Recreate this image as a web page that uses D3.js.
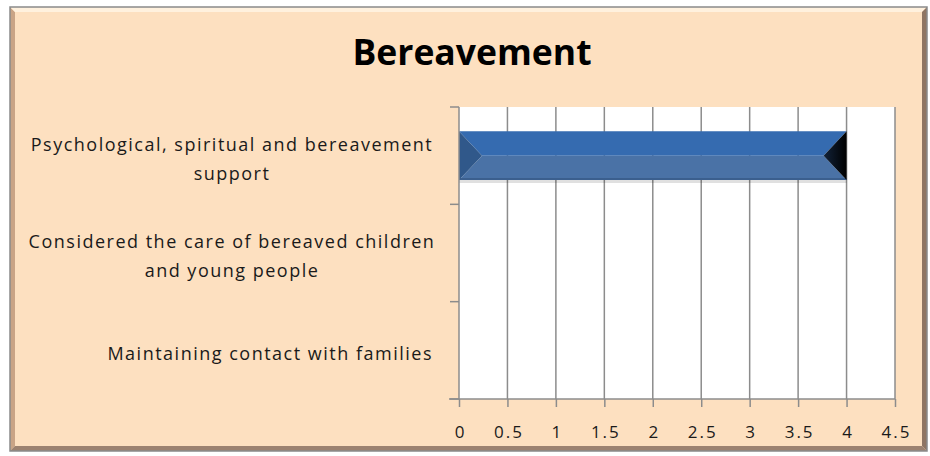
<!DOCTYPE html>
<html><head><meta charset="utf-8">
<script src="https://cdn.jsdelivr.net/npm/d3@7"></script>
<style>
html,body{margin:0;padding:0;background:#ffffff;}
svg{display:block;}
text{font-family:"Open Sans",Lato,sans-serif;fill:#1a1a1a;}
</style></head>
<body>
<svg id="chart" width="930" height="456"></svg>
<script>
const title = "Bereavement";
const categories = [
  "Psychological, spiritual and bereavement support",
  "Considered the care of bereaved children and young people",
  "Maintaining contact with families"
];
const categoryLines = [
  ["Psychological, spiritual and bereavement", "support"],
  ["Considered the care of bereaved children", "and young people"],
  ["Maintaining contact with families"]
];
const values = [4, 0, 0];
const xTicks = [0, 0.5, 1, 1.5, 2, 2.5, 3, 3.5, 4, 4.5];
const xTickLabels = ["0", "0.5", "1", "1.5", "2", "2.5", "3", "3.5", "4", "4.5"];

const svg = d3.select("#chart");
const defs = svg.append("defs");

// frame
const fl = 10, ft = 7, fr = 927, fb = 451;
svg.append("rect").attr("x", fl).attr("y", ft).attr("width", fr - fl).attr("height", fb - ft)
  .attr("fill", "#fde0c0");
const bev = 5;
svg.append("polygon").attr("points", `${fl},${ft} ${fl+bev},${ft+bev} ${fl+bev},${fb-bev} ${fl},${fb}`).attr("fill", "#c9a486");
svg.append("polygon").attr("points", `${fl},${ft} ${fr},${ft} ${fr-bev},${ft+bev} ${fl+bev},${ft+bev}`).attr("fill", "#fff1de");
svg.append("polygon").attr("points", `${fr},${ft} ${fr},${fb} ${fr-bev},${fb-bev} ${fr-bev},${ft+bev}`).attr("fill", "#8f7563");
svg.append("polygon").attr("points", `${fl},${fb} ${fr},${fb} ${fr-bev},${fb-bev} ${fl+bev},${fb-bev}`).attr("fill", "#9c8270");
svg.append("rect").attr("x", fl).attr("y", ft).attr("width", fr - fl).attr("height", fb - ft)
  .attr("fill", "none").attr("stroke", "#8a8a8a").attr("stroke-width", 1.5);

// title
svg.append("text").attr("x", 472).attr("y", 65).attr("text-anchor", "middle")
  .style("font-size", "35.5px").style("font-weight", "bold").style("fill", "#000").text(title);

// scales
const x = d3.scaleLinear().domain([0, 4.5]).range([459, 895]);
const y = d3.scaleBand().domain(categories).range([107, 399]).padding(0);

// plot background
svg.append("rect").attr("x", x(0)).attr("y", y.range()[0])
  .attr("width", x(4.5) - x(0)).attr("height", y.range()[1] - y.range()[0]).attr("fill", "#ffffff");

// gridlines
svg.append("g").selectAll("line").data(xTicks.slice(1)).join("line")
  .attr("x1", d => x(d)).attr("x2", d => x(d))
  .attr("y1", y.range()[0]).attr("y2", y.range()[1])
  .attr("stroke", "#8c8c8c").attr("stroke-width", 1.5);

// bars
const bh = y.bandwidth() * 0.5;
const bars = svg.append("g");
categories.forEach((c, i) => {
  const v = values[i];
  if (v <= 0) return;
  const x0 = x(0), x1 = x(v);
  const y0 = y(c) + (y.bandwidth() - bh) / 2, y1 = y0 + bh, ym = (y0 + y1) / 2;
  const b = Math.min(bh / 2, 23);
  bars.append("rect").attr("x", x0).attr("y", y1).attr("width", x1 - x0).attr("height", 3)
    .attr("fill", "#000").attr("opacity", 0.12);
  bars.append("polygon").attr("points", `${x0},${y0} ${x1},${y0} ${x1-b},${ym} ${x0+b},${ym}`).attr("fill", "#356bb0");
  bars.append("polygon").attr("points", `${x0},${y1} ${x1},${y1} ${x1-b},${ym} ${x0+b},${ym}`).attr("fill", "#4a72a6");
  bars.append("line").attr("x1", x0).attr("x2", x1).attr("y1", y1 - 1).attr("y2", y1 - 1).attr("stroke", "#3b5f8e").attr("stroke-width", 2);
  bars.append("polygon").attr("points", `${x0},${y0} ${x0+b},${ym} ${x0},${y1}`).attr("fill", "#30588a");
  const g = defs.append("linearGradient").attr("id", "rg" + i).attr("x1", "0").attr("x2", "1").attr("y1", "0").attr("y2", "0");
  g.append("stop").attr("offset", "0").attr("stop-color", "#12233a");
  g.append("stop").attr("offset", "1").attr("stop-color", "#000000");
  bars.append("polygon").attr("points", `${x1},${y0} ${x1-b},${ym} ${x1},${y1}`).attr("fill", `url(#rg${i})`);
});

// axes lines
svg.append("line").attr("x1", x(0)).attr("x2", x(0)).attr("y1", y.range()[0]).attr("y2", y.range()[1])
  .attr("stroke", "#8c8c8c").attr("stroke-width", 1.5);
svg.append("line").attr("x1", x(0) - 10).attr("x2", x(4.5)).attr("y1", y.range()[1]).attr("y2", y.range()[1])
  .attr("stroke", "#8c8c8c").attr("stroke-width", 1.5);

// y ticks at band boundaries
const bounds = categories.map(c => y(c)).concat([y.range()[1]]);
svg.append("g").selectAll("line").data(bounds).join("line")
  .attr("x1", x(0) - 9).attr("x2", x(0)).attr("y1", d => d).attr("y2", d => d)
  .attr("stroke", "#8c8c8c").attr("stroke-width", 1.5);

// x axis
const xAxis = d3.axisBottom(x).tickValues(xTicks).tickFormat((d, i) => xTickLabels[i]).tickSize(8);
const xg = svg.append("g").attr("transform", `translate(0,${y.range()[1]})`).call(xAxis);
xg.select(".domain").remove();
xg.selectAll(".tick line").attr("stroke", "#8c8c8c").attr("stroke-width", 1.5);
xg.selectAll(".tick text").attr("y", 39).attr("dy", null).attr("dx", 1)
  .style("font-size", "17px").style("letter-spacing", "2px")
  .style("font-family", "'Open Sans', sans-serif").attr("fill", "#1a1a1a");

// category labels
const lh = 29;
const lab = svg.append("g");
categories.forEach((c, i) => {
  const lines = categoryLines[i];
  const cy = y(c) + y.bandwidth() / 2;
  const single = lines.length === 1;
  const t = lab.append("text").attr("text-anchor", single ? "end" : "middle")
    .style("font-size", "18px").style("letter-spacing", "1.5px");
  lines.forEach((ln, j) => {
    t.append("tspan").attr("x", single ? 433 : 232)
      .attr("y", cy + (j - (lines.length - 1) / 2) * lh + 9.5).text(ln);
  });
});
</script>
</body></html>
